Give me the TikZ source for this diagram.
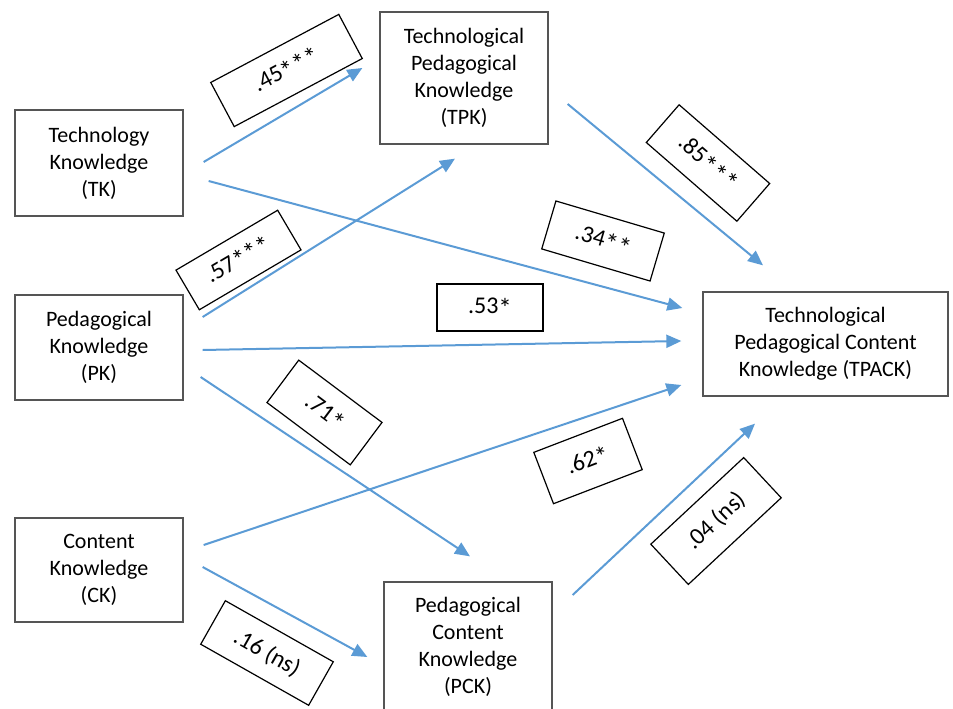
\documentclass[tikz,border=0pt]{standalone}
\usepackage{fontspec}
\setmainfont{Carlito}
\usetikzlibrary{arrows.meta,calc}
\definecolor{arrowblue}{HTML}{5B9BD5}
\definecolor{boxgray}{HTML}{555555}
\newcommand{\sig}{\raisebox{-0.3ex}{\fontsize{27}{28}\selectfont *}}
\begin{document}
\begin{tikzpicture}[x=1pt,y=-1pt,
  box/.style={draw=boxgray,line width=1.3pt,align=center,inner sep=0pt,
    minimum width=168pt,font=\fontsize{22}{27}\selectfont},
  coef/.style={draw=black,line width=1.2pt,inner sep=0pt,minimum height=50pt,
    font=\fontsize{24}{28}\selectfont},
  arr/.style={draw=arrowblue,line width=2pt,-{Triangle[length=15pt,width=13pt]}}]
\clip (0,0) rectangle (953,709);

\node[box,minimum height=106pt] (tk) at (99,163) {Technology\\Knowledge\\(TK)};
\node[box,minimum height=105pt] (pk) at (99,347.5) {Pedagogical\\Knowledge\\(PK)};
\node[box,minimum height=104pt] (ck) at (99,570) {Content\\Knowledge\\(CK)};
\node[box,minimum height=132pt] (tpk) at (464,78) {Technological\\Pedagogical\\Knowledge\\(TPK)};
\node[box,minimum height=130pt] (pck) at (468,647) {Pedagogical\\Content\\Knowledge\\(PCK)};
\node[box,minimum width=245pt,minimum height=104pt] (tpack) at (825.5,344)
  {Technological\\Pedagogical Content\\Knowledge (TPACK)};

\draw[arr] ($(tk.east)+(20,-1)$) -- ($(tpk.west)+(-17,-10)$);
\draw[arr] ($(tk.east)+(25,18)$) -- ($(tpack.west)+(-20,-36)$);
\draw[arr] ($(pk.east)+(19,-30.5)$) -- ($(tpk.south)+(-9,14)$);
\draw[arr] ($(pk.east)+(19,2.5)$) -- ($(tpack.west)+(-21,-3)$);
\draw[arr] ($(pk.east)+(17,29.5)$) -- ($(pck.north)+(2,-25)$);
\draw[arr] ($(ck.east)+(20,-25)$) -- ($(tpack.west)+(-21,41)$);
\draw[arr] ($(ck.east)+(19,-3)$) -- ($(pck.west)+(-16,10)$);
\draw[arr] ($(tpk.east)+(19,26)$) -- ($(tpack.north)+(-62.5,-26)$);
\draw[arr] ($(pck.east)+(20,-52)$) -- ($(tpack.south)+(-70.5,27)$);

\node[coef,minimum width=145pt,rotate=28] (c1) at (286.5,70.5) {.45\sig\sig\sig};
\node[coef,minimum width=113pt,rotate=-16.5] (c2) at (603,241) {.34\sig\sig};
\node[coef,minimum width=120pt,rotate=-41] (c3) at (708,163) {.85\sig\sig\sig};
\node[coef,minimum width=118pt,rotate=30.5,minimum height=46pt] (c4) at (238.5,260) {.57\sig\sig\sig};
\node[coef,minimum width=106pt,minimum height=47pt] (c5) at (490,307.5) {.53\sig};
\node[coef,minimum width=104pt,rotate=-36.8,minimum height=53pt] (c6) at (324.5,412.5) {.71\sig};
\node[coef,minimum width=95pt,rotate=21,minimum height=55pt] (c7) at (588,461) {.62\sig};
\node[coef,minimum width=127pt,rotate=43,minimum height=55pt] (c8) at (716,521) {.04 (ns)};
\node[coef,minimum width=124pt,rotate=-29.5] (c9) at (267,653) {.16 (ns)};
\end{tikzpicture}
\end{document}
